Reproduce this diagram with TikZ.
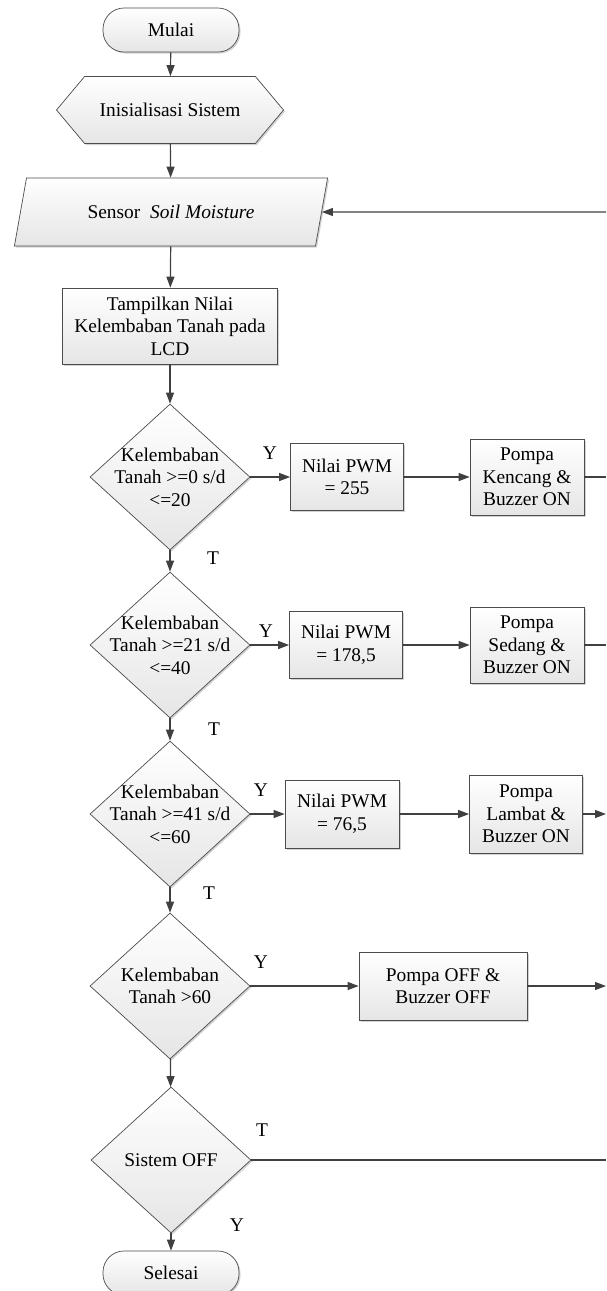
\documentclass[tikz,border=0pt]{standalone}
\usepackage{fontspec}
\setmainfont{Liberation Serif}
\usetikzlibrary{shapes.geometric,shapes.symbols,arrows.meta,shadows}

\begin{document}
\begin{tikzpicture}[x=1pt,y=-1pt,
   font=\fontsize{19.4}{22.5}\selectfont,
   box/.style={draw=black!70,line width=0.7pt,top color=white,bottom color=black!10,
     drop shadow={shadow xshift=1.5pt,shadow yshift=-1.5pt,fill=black!35},
     align=center,inner sep=2pt},
   terminal/.style={box,rounded corners=21pt,minimum width=136pt,minimum height=44pt},
   decision/.style={box,diamond,minimum width=160pt,minimum height=146pt,inner sep=0pt},
   flow/.style={draw=black!75,line width=1.2pt,-{Triangle[length=11pt,width=8pt]}},
   line/.style={draw=black!75,line width=1.2pt},
   lbl/.style={inner sep=0pt}]
   \useasboundingbox (0,0) rectangle (606,1291);
   % Start
   \node[terminal] (mulai) at (171,30) {Mulai};
   \node[box,signal,signal to=west and east,signal pointer angle=100,
     minimum width=227pt,minimum height=67pt] (init) at (170,110) {Inisialisasi Sistem};
   \node[box,trapezium,trapezium left angle=68,trapezium right angle=112,trapezium stretches,
     minimum width=314pt,minimum height=68pt] (sensor) at (171,212) {Sensor\ \ \textit{Soil Moisture}};
   \node[box,minimum width=215pt,minimum height=76pt] (lcd) at (170,326)
     {Tampilkan Nilai\\Kelembaban Tanah pada\\LCD};
   % Decisions
   \node[decision,label={[align=center]center:Kelembaban\\Tanah >=0 s/d\\<=20}] (d1) at (170,477) {};
   \node[decision,label={[align=center]center:Kelembaban\\Tanah >=21 s/d\\<=40}] (d2) at (170,645) {};
   \node[decision,label={[align=center]center:Kelembaban\\Tanah >=41 s/d\\<=60}] (d3) at (170,814) {};
   \node[decision,label={[align=center]center:Kelembaban\\Tanah >60}] (d4) at (170,986) {};
   \node[decision,label={center:Sistem OFF}] (d5) at (171,1160) {};
   \node[terminal] (selesai) at (171,1273) {Selesai};
   % PWM
   \node[box,minimum width=113pt,minimum height=67pt] (pwm1) at (347,477) {Nilai PWM\\= 255};
   \node[box,minimum width=113pt,minimum height=67pt] (pwm2) at (346,645) {Nilai PWM\\= 178,5};
   \node[box,minimum width=114pt,minimum height=68pt] (pwm3) at (342,814) {Nilai PWM\\= 76,5};
   % Pompa
   \node[box,minimum width=114pt,minimum height=76pt] (pompa1) at (527,477) {Pompa\\Kencang \&\\Buzzer ON};
   \node[box,minimum width=114pt,minimum height=76pt] (pompa2) at (527,645) {Pompa\\Sedang \&\\Buzzer ON};
   \node[box,minimum width=113pt,minimum height=78pt] (pompa3) at (526,814) {Pompa\\Lambat \&\\Buzzer ON};
   \node[box,minimum width=168pt,minimum height=68pt] (off) at (443,986) {Pompa OFF \&\\Buzzer OFF};
   % Right edge
   \coordinate (back) at (606,212);
   \coordinate (r1) at (606,477);
   \coordinate (r2) at (606,645);
   \coordinate (r3) at (606,814);
   \coordinate (r4) at (606,986);
   \coordinate (r5) at (606,1160);
   % Labels
   \node[lbl] (y1) at (270,453) {Y};
   \node[lbl] (t1) at (213,558) {T};
   \node[lbl] (y2) at (266,631) {Y};
   \node[lbl] (t2) at (214,729) {T};
   \node[lbl] (y3) at (261,790) {Y};
   \node[lbl] (t3) at (209,893) {T};
   \node[lbl] (y4) at (261,962) {Y};
   \node[lbl] (t5) at (262,1130) {T};
   \node[lbl] (y5) at (237,1225) {Y};
   % Arrows
   \draw[flow] (mulai) -- (init);
   \draw[flow] (init) -- (sensor);
   \draw[flow] (sensor) -- (lcd);
   \draw[flow] (lcd) -- (d1);
   \draw[flow] (d1) -- (d2);
   \draw[flow] (d2) -- (d3);
   \draw[flow] (d3) -- (d4);
   \draw[flow] (d4) -- (d5);
   \draw[flow] (d5) -- (selesai);
   \draw[flow] (d1.east) -- (pwm1.west);
   \draw[flow] (d2.east) -- (pwm2.west);
   \draw[flow] (d3.east) -- (pwm3.west);
   \draw[flow] (d4.east) -- (off.west);
   \draw[flow] (pwm1) -- (pompa1);
   \draw[flow] (pwm2) -- (pompa2);
   \draw[flow] (pwm3) -- (pompa3);
   \draw[line] (pompa1) -- (r1);
   \draw[line] (pompa2) -- (r2);
   \draw[flow] (pompa3) -- (r3);
   \draw[flow] (off) -- (r4);
   \draw[line] (d5.east) -- (r5);
   \draw[flow] (back) -- (sensor.east);
 \end{tikzpicture}
\end{document}
